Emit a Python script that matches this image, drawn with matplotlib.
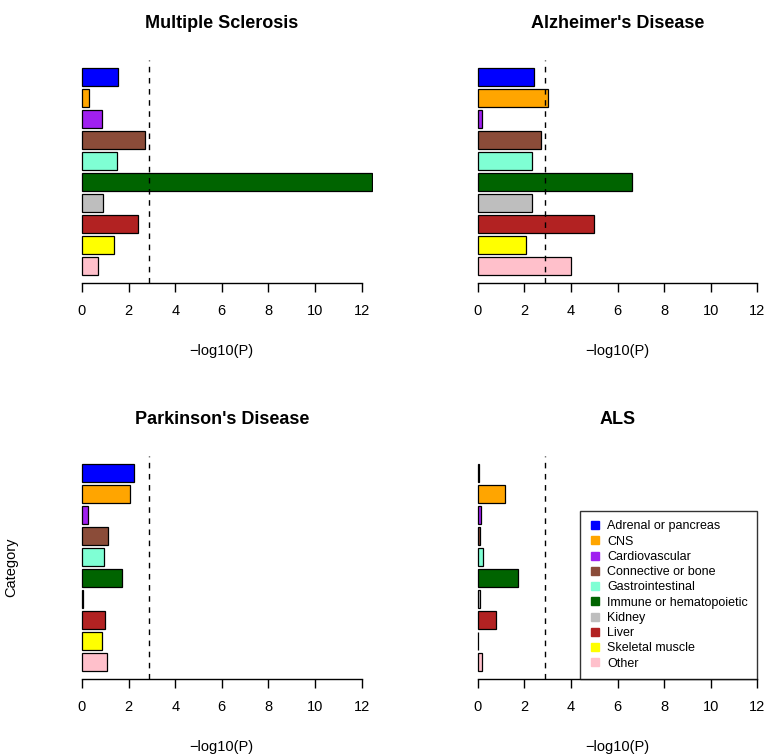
import matplotlib
matplotlib.use("Agg")
from matplotlib import pyplot as plt
from matplotlib.lines import Line2D

plt.rcParams['font.family'] = ['Liberation Sans', 'DejaVu Sans']

categories = ["Adrenal or pancreas", "CNS", "Cardiovascular", "Connective or bone",
              "Gastrointestinal", "Immune or hematopoietic", "Kidney", "Liver",
              "Skeletal muscle", "Other"]
colors = ["#0000FF", "#FFA500", "#A020F0", "#8B4C39", "#7FFFD4",
          "#006400", "#BEBEBE", "#B22222", "#FFFF00", "#FFC0CB"]

ms = [1.53, 0.32, 0.85, 2.70, 1.52, 12.45, 0.92, 2.39, 1.39, 0.67]
ad = [2.42, 3.01, 0.17, 2.71, 2.32, 6.64, 2.32, 4.98, 2.06, 4.01]
pd_ = [2.23, 2.06, 0.26, 1.12, 0.93, 1.72, 0.04, 0.97, 0.87, 1.06]
als = [0.07, 1.17, 0.16, 0.08, 0.24, 1.73, 0.10, 0.79, 0.03, 0.18]

panels = [("Multiple Sclerosis", ms), ("Alzheimer's Disease", ad),
          ("Parkinson's Disease", pd_), ("ALS", als)]
threshold = 2.88

W, H = 766, 756
fig = plt.figure(figsize=(W / 100, H / 100), dpi=100)

# plot regions in pixels: left, top, width, height
boxes = [(70.8, 60, 302, 223), (466.5, 60, 302, 223),
         (70.8, 456, 302, 223), (466.5, 456, 302, 223)]

n = len(categories)
ypos = [0.7 + 1.2 * (n - 1 - i) for i in range(n)]

for k, ((title, vals), (l, t, w, h)) in enumerate(zip(panels, boxes)):
    ax = fig.add_axes([l / W, 1 - (t + h) / H, w / W, h / H])
    ax.barh(ypos, vals, height=1.0, color=colors, edgecolor="black", linewidth=0.9)
    ax.axvline(threshold, color="black", linestyle=(0, (4, 4)), linewidth=1)
    ax.set_xlim(-0.48, 12.48)
    ax.set_ylim(-0.272, 12.472)
    for s in ["top", "right", "left"]:
        ax.spines[s].set_visible(False)
    ax.spines["bottom"].set_bounds(0, 12)
    ax.spines["bottom"].set_linewidth(1)
    ax.set_xticks(range(0, 13, 2))
    ax.set_yticks([])
    ax.tick_params(axis="x", length=6.5, width=1, pad=8.5, labelsize=10.5)
    ax.set_xlabel("\u2212log10(P)", fontsize=10.5, labelpad=19)
    ax.set_title(title, fontsize=13, fontweight="bold", pad=23)
    if k == 2:
        ax.set_ylabel("Category", fontsize=10.5)
        ax.yaxis.set_label_coords(-0.175, 0.5)
    if k == 3:
        handles = [Line2D([], [], marker="s", linestyle="none", markersize=5.5,
                          markerfacecolor=c, markeredgecolor=c) for c in colors]
        leg = ax.legend(handles, categories, loc="lower right",
                        bbox_to_anchor=(12, -0.272), bbox_transform=ax.transData,
                        borderaxespad=0, fontsize=9, frameon=True, fancybox=False,
                        handlelength=0.8, handletextpad=0.6, labelspacing=0.26,
                        borderpad=0.75)
        leg.get_frame().set_edgecolor("black")
        leg.get_frame().set_linewidth(1)

fig.savefig("out.png", dpi=100)
